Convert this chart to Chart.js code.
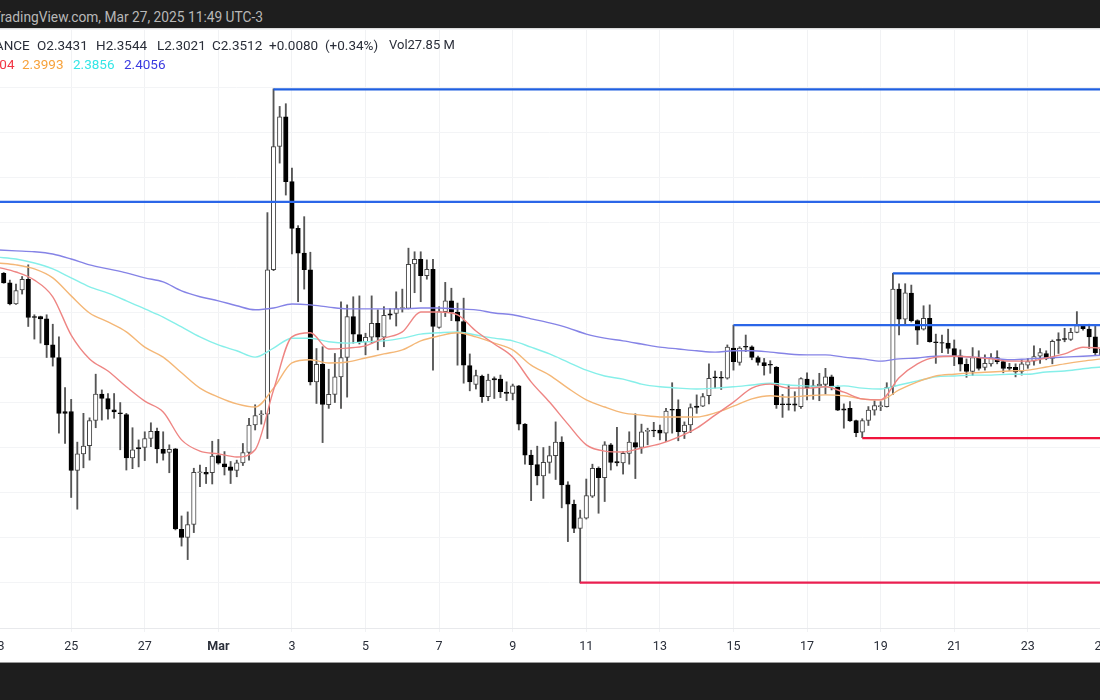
<!DOCTYPE html>
<html>
<head>
<meta charset="utf-8">
<title>XRP 4h chart</title>
<script src="https://cdn.jsdelivr.net/npm/chart.js@4/dist/chart.umd.min.js"></script>
<style>
  html, body { margin: 0; padding: 0; background: #fff; }
  body { position: relative; width: 1100px; height: 700px; overflow: hidden; font-family: Roboto, sans-serif; }
  #chart { position: absolute; left: -76px; top: 29px; }
  #topbar { position: absolute; left: 0; top: 0; width: 1100px; height: 28px; background: #1e1e1e; border-bottom: 1px solid #ddd; }
  #botbar { position: absolute; left: 0; top: 662px; width: 1100px; height: 38px; background: #1e1e1e; border-top: 1px solid #999; box-sizing: border-box; }
  #stamp { position: absolute; right: 837px; top: 9px; color: #b8b8b8; font-size: 13.75px; white-space: nowrap; }
  .lg { position: absolute; font-size: 13.5px; white-space: nowrap; color: #2a2e39; }
</style>
</head>
<body>
<canvas id="chart" width="1251" height="633"></canvas>
<div id="topbar"><span id="stamp">Published on TradingView.com, Mar 27, 2025 11:49 UTC-3</span></div>
<div id="botbar"></div>
<span class="lg" style="left:-27px;top:37px">BINANCE</span>
<span class="lg" style="left:37px;top:37px">O2.3431</span>
<span class="lg" style="left:96px;top:37px">H2.3544</span>
<span class="lg" style="left:157px;top:37px">L2.3021</span>
<span class="lg" style="left:212px;top:37px">C2.3512</span>
<span class="lg" style="left:269px;top:37px">+0.0080</span>
<span class="lg" style="left:325px;top:37px">(+0.34%)</span>
<span class="lg" style="left:389px;top:37px;font-size:13px">Vol27.85 M</span>
<span class="lg" style="left:-27px;top:56px;color:#f23645">2.4004</span>
<span class="lg" style="left:22px;top:56px;color:#f7a23b">2.3993</span>
<span class="lg" style="left:73px;top:56px;color:#33e6e6">2.3856</span>
<span class="lg" style="left:124px;top:56px;color:#3a3ae0">2.4056</span>
<script>
// 4h candles, first one closes out Feb 23
const opens = [
  2.588,2.567,2.520,2.551,2.575,2.492,2.492,2.487,2.429,2.401,
  2.281,2.281,2.150,2.187,2.205,2.261,2.320,2.310,2.285,2.278,
  2.274,2.178,2.201,2.201,2.221,2.237,2.197,2.190,2.198,2.019,
  2.001,2.030,2.145,2.146,2.145,2.183,2.165,2.158,2.150,2.167,
  2.190,2.251,2.274,2.275,2.596,2.870,2.936,2.792,2.688,2.633,
  2.596,2.347,2.386,2.296,2.319,2.358,2.401,2.492,2.452,2.436,
  2.446,2.477,2.446,2.498,2.499,2.510,2.510,2.609,2.619,2.583,
  2.597,2.468,2.503,2.527,2.502,2.481,2.383,2.341,2.360,2.314,
  2.354,2.353,2.324,2.321,2.338,2.253,2.184,2.163,2.138,2.168,
  2.183,2.213,2.118,2.075,2.021,2.044,2.093,2.155,2.134,2.207,
  2.170,2.167,2.188,2.212,2.201,2.237,2.240,2.240,2.233,2.286,
  2.286,2.236,2.251,2.293,2.293,2.316,2.358,2.357,2.355,2.422,
  2.390,2.426,2.425,2.401,2.390,2.386,2.379,2.298,2.298,2.298,
  2.292,2.353,2.338,2.338,2.341,2.358,2.336,2.287,2.288,2.261,
  2.235,2.261,2.284,2.292,2.292,2.336,2.553,2.486,2.544,2.483,
  2.464,2.488,2.436,2.434,2.433,2.421,2.405,2.386,2.370,2.401,
  2.379,2.387,2.401,2.392,2.379,2.379,2.370,2.384,2.393,2.404,
  2.410,2.399,2.441,2.443,2.441,2.457,2.472,2.464,2.447,2.405
];
const closes = [
  2.567,2.520,2.550,2.575,2.490,2.490,2.487,2.429,2.401,2.277,
  2.277,2.150,2.187,2.204,2.261,2.320,2.310,2.286,2.280,2.276,
  2.178,2.196,2.198,2.221,2.237,2.198,2.188,2.197,2.020,2.001,
  2.030,2.146,2.147,2.142,2.182,2.166,2.158,2.150,2.167,2.190,
  2.251,2.272,2.276,2.596,2.870,2.936,2.792,2.688,2.633,2.596,
  2.347,2.386,2.297,2.319,2.358,2.401,2.492,2.453,2.436,2.446,
  2.477,2.446,2.495,2.495,2.510,2.512,2.608,2.619,2.583,2.597,
  2.470,2.503,2.527,2.502,2.482,2.384,2.347,2.361,2.314,2.351,
  2.351,2.325,2.321,2.338,2.253,2.184,2.163,2.138,2.168,2.183,
  2.213,2.118,2.075,2.021,2.045,2.094,2.155,2.134,2.207,2.168,
  2.167,2.188,2.213,2.202,2.236,2.239,2.238,2.233,2.282,2.284,
  2.236,2.251,2.290,2.290,2.314,2.355,2.356,2.355,2.424,2.392,
  2.422,2.424,2.401,2.390,2.383,2.384,2.296,2.296,2.296,2.295,
  2.354,2.334,2.336,2.342,2.358,2.336,2.284,2.284,2.260,2.234,
  2.261,2.284,2.294,2.294,2.334,2.553,2.486,2.545,2.483,2.462,
  2.488,2.436,2.434,2.433,2.421,2.405,2.386,2.370,2.401,2.377,
  2.388,2.401,2.392,2.377,2.377,2.369,2.387,2.392,2.403,2.412,
  2.399,2.437,2.439,2.441,2.457,2.472,2.465,2.447,2.412,2.420
];
const highs = [
  2.590,2.573,2.564,2.581,2.607,2.496,2.493,2.496,2.475,2.447,
  2.334,2.308,2.213,2.277,2.267,2.364,2.329,2.321,2.321,2.301,
  2.277,2.245,2.218,2.236,2.256,2.244,2.236,2.207,2.199,2.049,
  2.058,2.155,2.162,2.157,2.215,2.219,2.192,2.170,2.173,2.210,
  2.266,2.296,2.283,2.723,2.998,2.959,2.965,2.822,2.694,2.714,
  2.635,2.421,2.425,2.375,2.410,2.525,2.518,2.536,2.538,2.455,
  2.538,2.507,2.514,2.510,2.547,2.553,2.644,2.636,2.636,2.618,
  2.619,2.514,2.568,2.555,2.522,2.533,2.409,2.373,2.362,2.364,
  2.358,2.362,2.347,2.342,2.339,2.254,2.195,2.204,2.201,2.204,
  2.258,2.225,2.125,2.084,2.062,2.131,2.164,2.158,2.214,2.210,
  2.246,2.192,2.236,2.276,2.253,2.244,2.257,2.251,2.288,2.345,
  2.307,2.258,2.298,2.318,2.321,2.387,2.371,2.370,2.429,2.473,
  2.425,2.451,2.427,2.404,2.399,2.394,2.381,2.319,2.340,2.325,
  2.356,2.367,2.351,2.366,2.377,2.362,2.338,2.298,2.303,2.262,
  2.265,2.292,2.305,2.303,2.345,2.588,2.565,2.565,2.562,2.485,
  2.516,2.518,2.453,2.451,2.464,2.440,2.418,2.398,2.423,2.416,
  2.407,2.410,2.416,2.393,2.388,2.387,2.396,2.399,2.427,2.421,
  2.416,2.440,2.456,2.466,2.466,2.503,2.473,2.475,2.473,2.430
];
const lows = [
  2.566,2.518,2.519,2.542,2.470,2.442,2.433,2.401,2.382,2.233,
  2.210,2.090,2.064,2.156,2.173,2.245,2.262,2.264,2.266,2.196,
  2.151,2.154,2.158,2.172,2.203,2.167,2.173,2.145,2.018,1.982,
  1.952,2.012,2.114,2.121,2.120,2.164,2.140,2.121,2.136,2.161,
  2.173,2.240,2.253,2.221,2.594,2.833,2.762,2.631,2.525,2.553,
  2.340,2.299,2.212,2.288,2.301,2.288,2.313,2.433,2.431,2.407,
  2.433,2.418,2.425,2.486,2.471,2.502,2.509,2.545,2.525,2.575,
  2.373,2.466,2.492,2.483,2.384,2.344,2.327,2.331,2.301,2.305,
  2.310,2.312,2.305,2.307,2.240,2.164,2.083,2.118,2.088,2.144,
  2.130,2.067,1.992,2.012,1.900,2.042,2.090,2.055,2.081,2.151,
  2.160,2.142,2.164,2.132,2.188,2.207,2.225,2.218,2.214,2.233,
  2.216,2.221,2.234,2.277,2.292,2.298,2.333,2.330,2.353,2.373,
  2.384,2.414,2.396,2.384,2.362,2.366,2.288,2.268,2.284,2.282,
  2.288,2.307,2.308,2.305,2.320,2.329,2.283,2.244,2.259,2.225,
  2.223,2.250,2.273,2.283,2.291,2.319,2.451,2.475,2.480,2.430,
  2.462,2.435,2.388,2.412,2.410,2.383,2.371,2.357,2.361,2.373,
  2.373,2.382,2.387,2.367,2.372,2.358,2.362,2.377,2.384,2.388,
  2.396,2.387,2.410,2.436,2.439,2.456,2.462,2.421,2.407,2.400
];

// moving averages read every half day, from day 0 (Feb 23) to day 30
const emaRed = [
  2.602,2.591,2.573,2.536,2.451,2.398,2.371,2.336,2.304,2.280,2.218,2.193,2.187,2.180,2.196,2.329,
  2.447,2.456,2.420,2.422,2.427,2.444,2.458,2.502,2.502,2.496,2.460,2.431,2.402,2.347,2.302,2.253,
  2.207,2.193,2.191,2.200,2.209,2.224,2.244,2.273,2.302,2.333,2.342,2.333,2.333,2.336,2.324,2.309,
  2.307,2.356,2.387,2.402,2.404,2.402,2.398,2.393,2.393,2.400,2.409,2.424,2.422
];
const emaOrange = [
  2.611,2.607,2.598,2.578,2.538,2.500,2.480,2.458,2.424,2.402,2.367,2.333,2.313,2.298,2.291,2.333,
  2.389,2.396,2.389,2.391,2.400,2.409,2.418,2.438,2.449,2.456,2.447,2.433,2.418,2.384,2.362,2.333,
  2.307,2.291,2.278,2.273,2.269,2.269,2.269,2.278,2.293,2.309,2.316,2.313,2.316,2.318,2.316,2.309,
  2.307,2.329,2.347,2.360,2.364,2.367,2.369,2.371,2.373,2.380,2.387,2.393,2.398
];
const emaCyan = [
  2.624,2.620,2.611,2.598,2.578,2.558,2.544,2.527,2.509,2.491,2.469,2.447,2.429,2.416,2.402,2.422,
  2.444,2.444,2.436,2.433,2.436,2.438,2.444,2.453,2.456,2.458,2.451,2.444,2.438,2.424,2.409,2.391,
  2.373,2.360,2.353,2.342,2.336,2.333,2.331,2.333,2.336,2.340,2.344,2.340,2.338,2.336,2.338,2.333,
  2.331,2.340,2.349,2.358,2.360,2.362,2.362,2.364,2.364,2.369,2.371,2.376,2.380
];
const emaBlue = [
  2.640,2.638,2.636,2.631,2.620,2.607,2.598,2.589,2.578,2.569,2.549,2.536,2.527,2.516,2.507,2.511,
  2.520,2.518,2.513,2.509,2.509,2.509,2.509,2.511,2.511,2.509,2.507,2.500,2.496,2.487,2.478,2.467,
  2.453,2.444,2.438,2.431,2.424,2.420,2.416,2.413,2.416,2.416,2.413,2.409,2.407,2.407,2.402,2.398,
  2.393,2.398,2.400,2.404,2.404,2.402,2.400,2.396,2.398,2.400,2.402,2.404,2.406
];

// support / resistance levels and the day each one starts
const levelPrices = [2.997, 2.747, 2.588, 2.473, 2.222, 1.901];
const levelStarts = [7.5, -2, 24.33, 20, 23.5, 15.83];
const levelColors = ['#1f5fe0', '#2b66e8', '#1f5fe0', '#2b66e8', '#f0143c', '#ea1f50'];

const tickLabels = ['23', '25', '27', 'Mar', '3', '5', '7', '9', '11', '13', '15', '17', '19', '21', '23', '25', '27'];

const candleDay = opens.map((_, i) => (i + 1) / 6);
const emaDay = emaRed.map((_, i) => i / 2);

const isUp = opens.map((o, i) => closes[i] >= o);

function emaSet(values, color) {
  return {
    type: 'line',
    data: values.map((y, i) => ({ x: emaDay[i], y })),
    borderColor: color,
    borderWidth: 1.4,
    pointRadius: 0,
    cubicInterpolationMode: 'monotone',
    order: 1
  };
}

const levelSets = levelPrices.map((p, i) => ({
  type: 'line',
  data: [{ x: levelStarts[i], y: p }, { x: 32, y: p }],
  borderColor: levelColors[i],
  borderWidth: 2.2,
  pointRadius: 0,
  order: 0
}));

new Chart(document.getElementById('chart'), {
  type: 'bar',
  data: {
    datasets: [
      ...levelSets,
      emaSet(emaRed, '#ee8583'),
      emaSet(emaOrange, '#f4b777'),
      emaSet(emaCyan, '#86efe9'),
      emaSet(emaBlue, '#8583e6'),
      {
        // bodies
        data: candleDay.map((x, i) => ({ x, y: [opens[i], closes[i]] })),
        backgroundColor: isUp.map(u => u ? '#ffffff' : '#000000'),
        borderColor: isUp.map(u => u ? '#444444' : '#000000'),
        borderWidth: 1,
        borderSkipped: false,
        barThickness: 4.5,
        grouped: false,
        order: 3
      },
      {
        // wicks
        data: candleDay.map((x, i) => ({ x, y: [lows[i], highs[i]] })),
        backgroundColor: '#555555',
        barThickness: 1.2,
        grouped: false,
        order: 4
      }
    ]
  },
  options: {
    responsive: false,
    animation: false,
    layout: { padding: 0 },
    plugins: { legend: { display: false }, tooltip: { enabled: false } },
    scales: {
      x: {
        type: 'linear',
        min: -2,
        max: 32,
        offset: false,
        afterFit: (scale) => { scale.height = 34; scale.paddingLeft = 0; scale.paddingRight = 0; },
        grid: { offset: false, color: '#f1f2f4', tickLength: 4 },
        border: { color: '#e8e9ec' },
        ticks: {
          stepSize: 2,
          autoSkip: false,
          maxRotation: 0,
          padding: 7,
          color: '#2a2e39',
          font: (ctx) => ({
            family: 'Roboto',
            size: 12.5,
            weight: ctx.tick && ctx.tick.value === 6 ? 'bold' : 'normal'
          }),
          callback: (v) => tickLabels[v / 2] || ''
        }
      },
      y: {
        min: 1.8,
        max: 3.131,
        afterFit: (scale) => { scale.width = 0; },
        border: { display: false },
        grid: { color: '#f3f4f6', drawTicks: false },
        ticks: { display: false, stepSize: 0.1 }
      }
    }
  }
});
</script>
</body>
</html>
